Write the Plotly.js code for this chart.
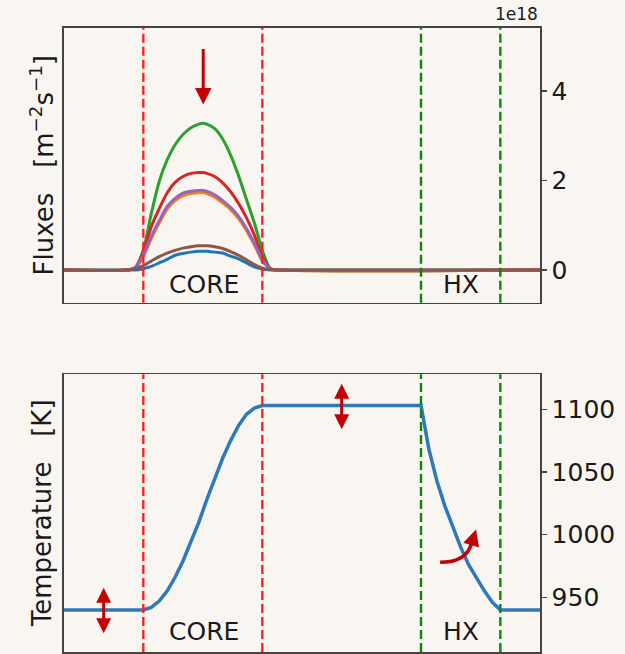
<!DOCTYPE html>
<html>
<head>
<meta charset="utf-8">
<script src="https://cdn.plot.ly/plotly-3.0.1.min.js"></script>
<style>
  html, body { margin: 0; padding: 0; overflow: hidden; background: #f9f6f1; }
  #chart { width: 625px; height: 700px; }
</style>
</head>
<body>
<div id="chart"></div>
<script>
// ---------- data ----------
const xFlux = [0, 0.8, 0.9, 1.0, 1.1, 1.2, 1.3, 1.4, 1.5, 1.6, 1.7, 1.75, 1.8, 1.9, 2.0, 2.1, 2.2, 2.3, 2.4, 2.5, 2.6, 2.7, 6];
// fluxes in units of 1e18 m^-2 s^-1
const fluxBlue   = [0, 0, 0.00, 0.03, 0.08, 0.16, 0.24, 0.33, 0.37, 0.40, 0.42, 0.42, 0.42, 0.40, 0.38, 0.31, 0.25, 0.16, 0.07, 0.02, 0, 0, 0];
const fluxOrange = [0, 0, 0.05, 0.30, 0.70, 1.05, 1.36, 1.55, 1.66, 1.71, 1.73, 1.73, 1.71, 1.63, 1.50, 1.35, 1.15, 0.88, 0.56, 0.20, 0.03, 0, 0];
const fluxGreen  = [0, 0, 0.06, 0.45, 1.26, 1.98, 2.46, 2.80, 3.03, 3.18, 3.26, 3.28, 3.26, 3.16, 2.93, 2.57, 2.11, 1.58, 1.05, 0.44, 0.03, 0, 0];
const fluxRed    = [0, 0, 0.05, 0.40, 0.97, 1.37, 1.72, 1.96, 2.09, 2.16, 2.18, 2.18, 2.16, 2.09, 1.95, 1.75, 1.49, 1.17, 0.78, 0.30, 0.03, 0, 0];
const fluxPurple = [0, 0, 0.05, 0.33, 0.75, 1.10, 1.42, 1.60, 1.72, 1.76, 1.78, 1.78, 1.76, 1.68, 1.55, 1.40, 1.20, 0.93, 0.60, 0.23, 0.02, 0, 0];
const fluxBrown  = [0, 0, 0.03, 0.10, 0.20, 0.30, 0.38, 0.44, 0.49, 0.52, 0.54, 0.54, 0.54, 0.52, 0.48, 0.41, 0.33, 0.23, 0.12, 0.04, 0.01, 0, 0];

const xTemp = [0, 1.0, 1.1, 1.2, 1.3, 1.4, 1.5, 1.6, 1.7, 1.8, 1.9, 2.0, 2.1, 2.2, 2.3, 2.4, 2.5, 4.5, 4.6, 4.7, 4.8, 4.9, 5.0, 5.1, 5.2, 5.3, 5.4, 5.5, 6];
const temp  = [940, 940, 942, 947, 955, 966, 979, 994, 1010, 1028, 1045, 1061, 1075, 1087, 1096, 1101, 1103, 1103, 1068, 1043, 1023, 1006, 990, 976, 965, 955, 946, 940, 940];

const coreBounds = [1.0, 2.5];
const hxBounds = [4.5, 5.5];
const fluxTicks = [0, 2, 4];
const tempTicks = [950, 1000, 1050, 1100];
const xTicks = [0, 1, 2, 3, 4, 5, 6];

// ---------- styles ----------
const BG = '#f9f6f1';
const FONT = 'DejaVu Sans';
const AX = '#444444';
const ARROW = '#c40000';
const fluxSeries = [
  [fluxBlue, '#1f77b4'], [fluxOrange, '#ff7f0e'], [fluxGreen, '#2ca02c'],
  [fluxRed, '#d62728'], [fluxPurple, '#9467bd'], [fluxBrown, '#8c564b']
];

const traces = fluxSeries.map(([y, c]) => ({
  x: xFlux, y: y, type: 'scatter', mode: 'lines',
  line: { color: c, width: 3, shape: 'spline', smoothing: 0.6 },
  xaxis: 'x', yaxis: 'y', hoverinfo: 'skip'
}));
traces.push({
  x: xTemp, y: temp, type: 'scatter', mode: 'lines',
  line: { color: '#2f79bb', width: 3.5 },
  xaxis: 'x2', yaxis: 'y2', hoverinfo: 'skip'
});

const shapes = [];
[['x', 'y'], ['x2', 'y2']].forEach(([xr, yr]) => {
  coreBounds.forEach(v => shapes.push({ type: 'line', xref: xr, yref: yr + ' domain', x0: v, x1: v, y0: 0, y1: 1,
    line: { color: '#ff2222', width: 2.4, dash: '9px,4px' }, layer: 'above' }));
  hxBounds.forEach(v => shapes.push({ type: 'line', xref: xr, yref: yr + ' domain', x0: v, x1: v, y0: 0, y1: 1,
    line: { color: '#0f850f', width: 2.4, dash: '9px,4px' }, layer: 'above' }));
});
// curved arrow shaft (HX)
shapes.push({ type: 'path', xref: 'x2', yref: 'y2', layer: 'above',
  path: 'M 4.741,977.9 Q 5.07,978 5.135,992.8',
  line: { color: ARROW, width: 3.5 } });

const txt = (s, size) => ({ text: s, showarrow: false, font: { family: FONT, size: size, color: '#1a1a1a' } });
const annotations = [
  Object.assign(txt('CORE', 25), { xref: 'x', yref: 'y', x: 1.77, y: -0.33, xanchor: 'center', yanchor: 'middle' }),
  Object.assign(txt('HX', 25), { xref: 'x', yref: 'y', x: 5.0, y: -0.33, xanchor: 'center', yanchor: 'middle' }),
  Object.assign(txt('CORE', 25), { xref: 'x2', yref: 'y2', x: 1.77, y: 923, xanchor: 'center', yanchor: 'middle' }),
  Object.assign(txt('HX', 25), { xref: 'x2', yref: 'y2', x: 5.0, y: 923, xanchor: 'center', yanchor: 'middle' }),
  Object.assign(txt('1e18', 17), { xref: 'paper', yref: 'paper', x: 1.0, y: 1.0, xanchor: 'right', yanchor: 'bottom', yshift: 2 }),
  Object.assign(txt('Fluxes\u00a0\u00a0\u00a0[m<sup>\u22122</sup>s<sup>\u22121</sup>]', 26),
    { xref: 'paper', yref: 'y domain', x: -0.046, y: 0.5, xanchor: 'center', yanchor: 'middle', textangle: -90 }),
  Object.assign(txt('Temperature\u00a0\u00a0\u00a0[K]', 26),
    { xref: 'paper', yref: 'y2 domain', x: -0.046, y: 0.5, xanchor: 'center', yanchor: 'middle', textangle: -90 }),
  // arrows
  { xref: 'x', yref: 'y', x: 1.755, y: 3.70, ax: 0, ay: -57, text: '', showarrow: true,
    arrowhead: 2, arrowsize: 1.1, arrowwidth: 3, arrowcolor: ARROW, standoff: 0 },
  { xref: 'x2', yref: 'y2', x: 0.5, y: 921.3, ax: 0, ay: -47, text: '', showarrow: true, arrowside: 'end+start',
    arrowhead: 2, startarrowhead: 2, arrowsize: 1.0, startarrowsize: 1.0, arrowwidth: 3, arrowcolor: ARROW, standoff: 0, startstandoff: 0 },
  { xref: 'x2', yref: 'y2', x: 3.5, y: 1084.1, ax: 0, ay: -47, text: '', showarrow: true, arrowside: 'end+start',
    arrowhead: 2, startarrowhead: 2, arrowsize: 1.0, startarrowsize: 1.0, arrowwidth: 3, arrowcolor: ARROW, standoff: 0, startstandoff: 0 },
  { xref: 'x2', yref: 'y2', x: 5.194, y: 1004.2, ax: -5, ay: 16, text: '', showarrow: true,
    arrowhead: 2, arrowsize: 1.1, arrowwidth: 3, arrowcolor: ARROW, standoff: 0 }
];

const common = { showline: true, linecolor: AX, linewidth: 1.6, mirror: true, showgrid: false, zeroline: false };
const tickFont = { family: FONT, size: 25, color: '#1a1a1a' };
const layout = {
  width: 625, height: 700,
  margin: { l: 64, r: 85, t: 28, b: 48 },
  paper_bgcolor: BG, plot_bgcolor: BG,
  showlegend: false,
  font: { family: FONT, size: 24, color: '#1a1a1a' },
  xaxis: Object.assign({}, common, { domain: [0, 1], anchor: 'y', range: [0, 6], tickvals: xTicks, showticklabels: false, ticks: '' }),
  yaxis: Object.assign({}, common, { domain: [0.5598, 1], anchor: 'x', side: 'right', range: [-0.73, 5.41],
    tickvals: fluxTicks, ticks: 'outside', ticklen: 5, tickwidth: 1.5, tickcolor: AX, tickfont: tickFont }),
  xaxis2: Object.assign({}, common, { domain: [0, 1], anchor: 'y2', range: [0, 6], tickvals: xTicks, showticklabels: false,
    ticks: 'outside', ticklen: 6, tickwidth: 1.5, tickcolor: AX }),
  yaxis2: Object.assign({}, common, { domain: [0, 0.445], anchor: 'x2', side: 'right', range: [906.4, 1127.9],
    tickvals: tempTicks, ticks: 'outside', ticklen: 5, tickwidth: 1.5, tickcolor: AX, tickfont: tickFont }),
  shapes: shapes,
  annotations: annotations
};

Plotly.newPlot('chart', traces, layout, { displayModeBar: false, staticPlot: true });
</script>
</body>
</html>
